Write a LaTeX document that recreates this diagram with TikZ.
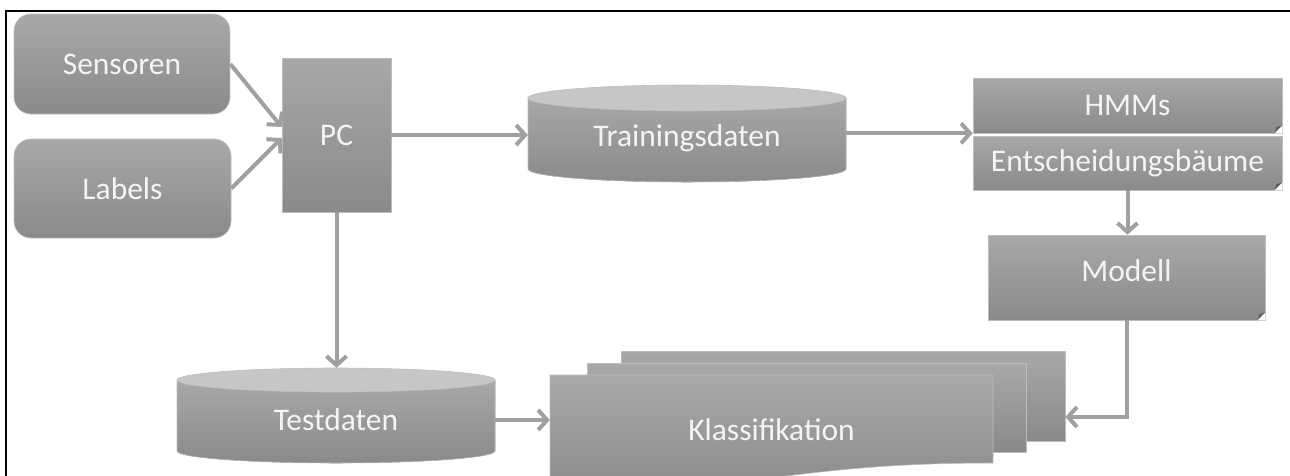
\documentclass[tikz,border=0pt]{standalone}
\usepackage{fontspec}
\setmainfont{Carlito}
\usetikzlibrary{arrows.meta,calc}
\definecolor{gtop}{HTML}{A8A8A8}
\definecolor{gbot}{HTML}{8A8A8A}
\definecolor{edgec}{HTML}{BDBDBD}
\definecolor{capc}{HTML}{C6C6C6}
\definecolor{arrc}{HTML}{A0A0A0}
\definecolor{txt}{HTML}{F4F4F4}
\definecolor{folddark}{HTML}{5E5E5E}
\newcommand\foldcorner[1]{%
  \fill[white] (#1.south east) -- ([xshift=-8pt]#1.south east) -- ([yshift=8pt]#1.south east) -- cycle;
  \fill[folddark] ([xshift=-8pt]#1.south east) -- ([yshift=8pt]#1.south east) -- ([xshift=-6pt,yshift=6pt]#1.south east) -- cycle;}
\begin{document}
\begin{tikzpicture}[x=1pt,y=-1pt,
  lbl/.style={text=txt,font=\fontsize{31.5}{37}\selectfont,inner sep=0pt},
  shaded/.style={top color=gtop,bottom color=gbot,draw=edgec,line width=0.6pt},
  capfill/.style={fill=capc,draw=edgec,line width=0.6pt},
  arr/.style={draw=arrc,line width=4pt,-{Straight Barb[length=9pt,width=20pt]}}]
\useasboundingbox (0,0) rectangle (1290,475);
\draw[line width=2.2pt] (6,480) -- (6,11) -- (1295,11);

% left input boxes
\node[lbl,shaded,rounded corners=17pt,minimum width=216pt,minimum height=100pt] (sens) at (122,64) {Sensoren};
\node[lbl,shaded,rounded corners=17pt,minimum width=217pt,minimum height=99pt] (lab) at (122.5,188.5) {Labels};
\node[lbl,shaded,minimum width=109pt,minimum height=154pt] (pc) at (336.5,135) {PC};

% Trainingsdaten cylinder
\fill[shaded] (528,98) -- (528,169) arc[start angle=180,end angle=360,x radius=159pt,y radius=13pt] -- (846,98) -- cycle;
\path[capfill] (687,98) ellipse [x radius=159pt,y radius=13pt];
\node[lbl,minimum width=318pt,minimum height=106pt] (train) at (687,138) {Trainingsdaten};

% Testdaten cylinder
\fill[shaded] (177,380) -- (177,451) arc[start angle=180,end angle=360,x radius=159pt,y radius=12pt] -- (495,380) -- cycle;
\path[capfill] (336,380) ellipse [x radius=159pt,y radius=12pt];
\node[lbl,minimum width=318pt,minimum height=104pt] (test) at (336,420) {Testdaten};

% right side
\node[lbl,shaded,minimum width=309pt,minimum height=55pt] (hmm) at (1127.5,105.5) {HMMs};
\foldcorner{hmm}
\node[lbl,shaded,minimum width=309pt,minimum height=54pt] (ent) at (1127.5,163) {Entscheidungsbäume};
\foldcorner{ent}
\node[lbl,shaded,minimum width=277pt,minimum height=85pt,text depth=14pt] (modell) at (1126.5,277.5) {Modell};
\foldcorner{modell}

% Klassifikation (multi document)
\node[shaded,minimum width=444pt,minimum height=90pt] (kback) at (843,396) {};
\node[shaded,minimum width=439pt,minimum height=89pt] (kmid) at (806.5,407.5) {};
\path[shaded] (550,375) -- (993,375) -- (993,463) .. controls (771,463) and (771,497) .. (550,478) -- cycle;
\node[lbl,minimum width=443pt,minimum height=100pt] (klass) at (771.5,430) {Klassifikation};
\coordinate (kin) at ($(kback.east)+(0,21)$);

% connectors
\draw[arr] (sens.east) -- ([yshift=8pt]pc.west);
\draw[arr] (lab.east) -- ([yshift=-3pt]pc.west);
\draw[arr] (pc.east) -- (pc.east -| train.west);
\draw[arr] (hmm.south west -| train.east) -- (hmm.south west);
\draw[arr] (ent.south) -- (ent.south |- modell.north);
\draw[arr] (pc.south) -- (pc.south |- test.north);
\draw[arr] (test.east) -- (test.east -| klass.west);
\draw[arr] (modell.south) |- (kin);
\end{tikzpicture}
\end{document}
